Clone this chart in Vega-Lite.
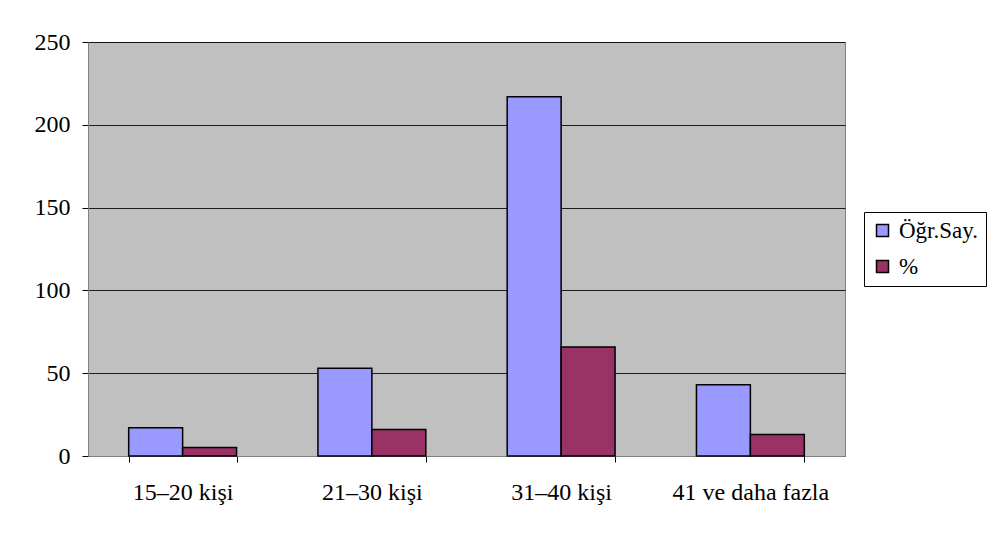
{
  "$schema": "https://vega.github.io/schema/vega-lite/v6.json",
  "width": 757,
  "height": 414,
  "autosize": {"type": "none"},
  "padding": {"left": 88, "top": 42, "right": 144, "bottom": 82},
  "background": "white",
  "config": {
    "font": "Liberation Serif",
    "view": {"fill": "#C0C0C0", "stroke": "#808080", "strokeWidth": 1}
  },
  "data": {
    "values": [
      {"grup": "15–20 kişi", "seri": "Öğr.Say.", "deger": 17},
      {"grup": "15–20 kişi", "seri": "%", "deger": 5.15},
      {"grup": "21–30 kişi", "seri": "Öğr.Say.", "deger": 53},
      {"grup": "21–30 kişi", "seri": "%", "deger": 16.06},
      {"grup": "31–40 kişi", "seri": "Öğr.Say.", "deger": 217},
      {"grup": "31–40 kişi", "seri": "%", "deger": 65.76},
      {"grup": "41 ve daha fazla", "seri": "Öğr.Say.", "deger": 43},
      {"grup": "41 ve daha fazla", "seri": "%", "deger": 13.03}
    ]
  },
  "mark": {"type": "bar", "stroke": "#000000", "strokeWidth": 1.5},
  "encoding": {
    "x": {
      "field": "grup",
      "type": "nominal",
      "sort": null,
      "scale": {"paddingInner": 0.43, "paddingOuter": 0.215},
      "axis": {
        "title": null,
        "labelAngle": 0,
        "labelFont": "Liberation Serif",
        "labelFontSize": 24,
        "labelColor": "#000000",
        "labelPadding": 18,
        "labelLimit": 300,
        "tickBand": "extent",
        "tickSize": 6,
        "tickColor": "#000000",
        "domainColor": "#808080",
        "grid": false
      }
    },
    "xOffset": {
      "field": "seri",
      "type": "nominal",
      "sort": ["Öğr.Say.", "%"],
      "scale": {"paddingInner": 0, "paddingOuter": 0}
    },
    "y": {
      "field": "deger",
      "type": "quantitative",
      "scale": {"domain": [0, 250], "nice": false},
      "axis": {
        "title": null,
        "values": [0, 50, 100, 150, 200, 250],
        "labelFont": "Liberation Serif",
        "labelFontSize": 24,
        "labelColor": "#000000",
        "labelPadding": 12,
        "tickSize": 6,
        "tickColor": "#000000",
        "domainColor": "#808080",
        "grid": true,
        "gridColor": "#000000",
        "gridOpacity": 0.85,
        "gridWidth": 1
      }
    },
    "color": {
      "field": "seri",
      "type": "nominal",
      "sort": ["Öğr.Say.", "%"],
      "scale": {"domain": ["Öğr.Say.", "%"], "range": ["#9999FF", "#993366"]},
      "legend": {
        "title": null,
        "orient": "none",
        "legendX": 776,
        "legendY": 170,
        "symbolType": "square",
        "symbolSize": 144,
        "symbolStrokeColor": "#000000",
        "symbolStrokeWidth": 1.5,
        "symbolOpacity": 1,
        "labelFont": "Liberation Serif",
        "labelFontSize": 23,
        "labelColor": "#000000",
        "labelOffset": 5,
        "labelLimit": 200,
        "rowPadding": 12,
        "padding": 7,
        "strokeColor": "#000000",
        "fillColor": "white"
      }
    }
  }
}
